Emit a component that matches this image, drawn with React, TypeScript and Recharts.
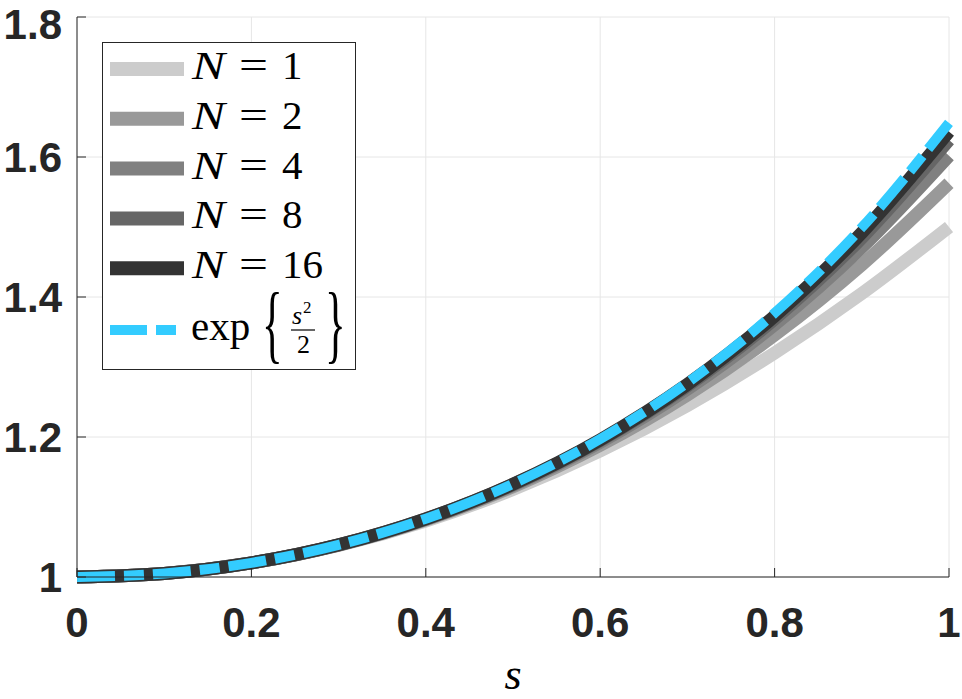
import { LineChart, Line, XAxis, YAxis, CartesianGrid } from 'recharts'

// values at s = 0, 0.1, ..., 1
const S_VALUES = [0, 0.1, 0.2, 0.3, 0.4, 0.5, 0.6, 0.7, 0.8, 0.9, 1]
const N1 = [1, 1.005, 1.02, 1.045, 1.08, 1.125, 1.18, 1.245, 1.32, 1.405, 1.5]
const N2 = [1, 1.005, 1.0201, 1.0455, 1.0816, 1.1289, 1.1881, 1.26, 1.3456, 1.446, 1.5625]
const N4 = [1, 1.005, 1.0202, 1.0458, 1.0824, 1.131, 1.1925, 1.2684, 1.3605, 1.4708, 1.6018]
const N8 = [1, 1.005, 1.0202, 1.0459, 1.0829, 1.1321, 1.1948, 1.2729, 1.3686, 1.4845, 1.6242]
const N16 = [1, 1.005, 1.0202, 1.046, 1.0831, 1.1326, 1.196, 1.2752, 1.3728, 1.4918, 1.6362]
const EXP = [1, 1.005, 1.0202, 1.046, 1.0833, 1.1331, 1.1972, 1.2776, 1.3771, 1.4993, 1.6487]

const X_TICKS = [0, 0.2, 0.4, 0.6, 0.8, 1]
const Y_TICKS = [1, 1.2, 1.4, 1.6, 1.8]

const SERIES = [
  { key: 'n1', label: '1', color: '#cccccc', values: N1 },
  { key: 'n2', label: '2', color: '#999999', values: N2 },
  { key: 'n4', label: '4', color: '#808080', values: N4 },
  { key: 'n8', label: '8', color: '#666666', values: N8 },
  { key: 'n16', label: '16', color: '#333333', values: N16 },
]
const EXP_COLOR = '#33ccff'

const data = S_VALUES.map((s, i) => {
  const row: Record<string, number> = { s, exp: EXP[i] }
  SERIES.forEach((ser) => { row[ser.key] = ser.values[i] })
  return row
})

const AXIS = '#262626'
const tickStyle = {
  fontSize: 42,
  fontWeight: 'bold',
  fill: AXIS,
  fontFamily: '"Liberation Sans", Arial, sans-serif',
}
const serif = '"Liberation Serif", "Times New Roman", serif'

const fmt = (v: number) => String(Math.round(v * 10) / 10)

function LegendBox() {
  return (
    <svg width={962} height={699} style={{ position: 'absolute', left: 0, top: 0, pointerEvents: 'none' }}>
      <rect x={102.5} y={42.5} width={253} height={327} fill="#fff" stroke={AXIS} strokeWidth={1} />
      {SERIES.map((ser, i) => {
        const cy = 69 + i * 49.8
        return (
          <g key={ser.key}>
            <line x1={110} x2={184} y1={cy} y2={cy} stroke={ser.color} strokeWidth={14} />
            <text x={192} y={cy + 10} fontFamily={serif} fontSize={41} fontStyle="italic" fill="#000"
              textLength={33} lengthAdjust="spacingAndGlyphs">N</text>
            <text x={239} y={cy + 10} fontFamily={serif} fontSize={41} fill="#000"
              textLength={29} lengthAdjust="spacingAndGlyphs">=</text>
            <text x={282} y={cy + 10} fontFamily={serif} fontSize={41} fill="#000">{ser.label}</text>
          </g>
        )
      })}
      <line x1={110} x2={184} y1={330} y2={330} stroke={EXP_COLOR} strokeWidth={10} strokeDasharray="37 9 20 9" />
      <text x={191} y={340} fontFamily={serif} fontSize={41} fill="#000">exp</text>
      <text x={0} y={0} fontFamily={serif} fontSize={86} fill="#000" transform="translate(262 352) scale(0.5 1)">{'{'}</text>
      <text x={292} y={324} fontFamily={serif} fontSize={26} fontStyle="italic" fill="#000">s</text>
      <text x={303} y={313} fontFamily={serif} fontSize={17} fill="#000">2</text>
      <line x1={291} x2={315} y1={330} y2={330} stroke="#000" strokeWidth={1.2} />
      <text x={297} y={353} fontFamily={serif} fontSize={26} fill="#000">2</text>
      <text x={0} y={0} fontFamily={serif} fontSize={86} fill="#000" transform="translate(325 352) scale(0.5 1)">{'}'}</text>
    </svg>
  )
}

export default function App() {
  return (
    <div style={{ position: 'absolute', left: 0, top: 0, width: 962, height: 699, background: '#fff' }}>
      <LineChart width={962} height={699} data={data} margin={{ top: 17, right: 13, left: 0, bottom: 0 }}>
        <CartesianGrid stroke="#e6e6e6" strokeWidth={1} />
        <XAxis
          dataKey="s"
          type="number"
          domain={[0, 1]}
          ticks={X_TICKS}
          tickFormatter={fmt}
          height={122}
          tickSize={-9}
          tickMargin={39}
          stroke={AXIS}
          tick={tickStyle}
          label={{
            value: 's',
            position: 'insideBottom',
            offset: 10,
            style: { fontFamily: serif, fontStyle: 'italic', fontSize: 44, fill: '#000' },
          }}
        />
        <XAxis
          xAxisId="top"
          orientation="top"
          dataKey="s"
          type="number"
          domain={[0, 1]}
          ticks={X_TICKS}
          height={0}
          tickSize={-9}
          tick={false}
          stroke={AXIS}
        />
        <YAxis
          type="number"
          domain={[1, 1.8]}
          ticks={Y_TICKS}
          tickFormatter={fmt}
          width={77}
          tickSize={-9}
          tickMargin={24}
          stroke={AXIS}
          tick={tickStyle}
        />
        <YAxis
          yAxisId="right"
          orientation="right"
          type="number"
          domain={[1, 1.8]}
          ticks={Y_TICKS}
          width={0}
          tickSize={-9}
          tick={false}
          stroke={AXIS}
        />
        {SERIES.map((ser) => (
          <Line
            key={ser.key}
            type="monotone"
            dataKey={ser.key}
            stroke={ser.color}
            strokeWidth={13}
            dot={false}
            activeDot={false}
            isAnimationActive={false}
          />
        ))}
        <Line
          type="monotone"
          dataKey="exp"
          stroke={EXP_COLOR}
          strokeWidth={10}
          strokeDasharray="38 9 20 9"
          dot={false}
          activeDot={false}
          isAnimationActive={false}
        />
      </LineChart>
      <LegendBox />
    </div>
  )
}
